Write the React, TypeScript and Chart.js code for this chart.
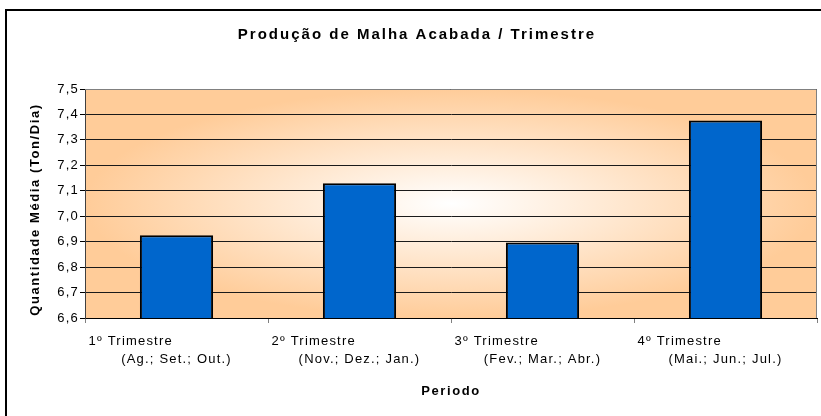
import React, { useEffect, useRef } from 'react';
import { Chart, registerables } from 'chart.js';

Chart.register(...registerables);

const trimestres = ['1º Trimestre', '2º Trimestre', '3º Trimestre', '4º Trimestre'];
const meses = ['(Ag.; Set.; Out.)', '(Nov.; Dez.; Jan.)', '(Fev.; Mar.; Abr.)', '(Mai.; Jun.; Jul.)'];
const producao = [6.925, 7.13, 6.897, 7.376];
const yMin = 6.6;
const yMax = 7.5;
const yStep = 0.1;
const titulo = 'Produção de Malha Acabada / Trimestre';
const tituloX = 'Periodo';
const tituloY = 'Quantidade Média (Ton/Dia)';

const FONT = '"Liberation Sans", Arial, sans-serif';

const decorPlugin = {
  id: 'decor',
  beforeDraw(chart: any) {
    const { ctx, chartArea: a } = chart;
    ctx.save();
    ctx.fillStyle = '#FFFFFF';
    ctx.fillRect(0, 0, chart.width, chart.height);
    // outer frame
    ctx.strokeStyle = '#000';
    ctx.lineWidth = 2;
    ctx.beginPath();
    ctx.moveTo(6, chart.height + 2);
    ctx.lineTo(6, 10);
    ctx.lineTo(chart.width + 2, 10);
    ctx.stroke();
    // plot background gradient
    const cx = (a.left + a.right) / 2;
    const cy = (a.top + a.bottom) / 2;
    const rx = (a.right - a.left) / 2;
    const ry = (a.bottom - a.top) / 2;
    ctx.beginPath();
    ctx.rect(a.left, a.top, a.right - a.left, a.bottom - a.top);
    ctx.clip();
    ctx.translate(cx, cy);
    ctx.scale(rx / ry, 1);
    const g = ctx.createRadialGradient(0, 0, 0, 0, 0, ry);
    g.addColorStop(0, '#FFFFFF');
    g.addColorStop(1, '#FFCC99');
    ctx.fillStyle = g;
    ctx.fillRect(-3000, -3000, 6000, 6000);
    ctx.restore();
    ctx.letterSpacing = '1.2px';
  },
  afterDatasetsDraw(chart: any) {
    const { ctx, chartArea: a } = chart;
    ctx.save();
    ctx.strokeStyle = '#808080';
    ctx.lineWidth = 1;
    const t = Math.round(a.top) + 0.5;
    const r = Math.round(a.right) - 0.5;
    ctx.beginPath();
    ctx.moveTo(Math.round(a.left), t);
    ctx.lineTo(r, t);
    ctx.lineTo(r, Math.round(a.bottom));
    ctx.stroke();
    ctx.restore();
  },
  afterDraw(chart: any) {
    const { ctx } = chart;
    const xs = chart.scales.x;
    ctx.save();
    ctx.fillStyle = '#000';
    ctx.textBaseline = 'middle';
    // x category labels
    ctx.font = `13px ${FONT}`;
    ctx.letterSpacing = '1.2px';
    trimestres.forEach((t, i) => {
      const px = xs.getPixelForValue(i);
      ctx.textAlign = 'left';
      ctx.fillText(t, px - 88, 341);
      ctx.textAlign = 'center';
      ctx.fillText(meses[i], px, 359);
    });
    // main title
    ctx.font = `bold 15px ${FONT}`;
    ctx.letterSpacing = '2px';
    ctx.textAlign = 'center';
    ctx.fillText(titulo, 417, 35);
    // x title
    ctx.font = `bold 13px ${FONT}`;
    ctx.letterSpacing = '1.6px';
    ctx.fillText(tituloX, 451, 391);
    // y title
    ctx.translate(35, 209.5);
    ctx.rotate(-Math.PI / 2);
    ctx.fillText(tituloY, 0, 0);
    ctx.restore();
  },
};

export default function App() {
  const ref = useRef<HTMLCanvasElement>(null);
  useEffect(() => {
    if (!ref.current) return;
    const chart = new Chart(ref.current, {
      type: 'bar',
      data: {
        labels: trimestres,
        datasets: [
          {
            data: producao,
            backgroundColor: '#0066CC',
            borderColor: '#000000',
            borderWidth: 2,
            barPercentage: 0.4,
            categoryPercentage: 1,
          },
        ],
      },
      options: {
        responsive: false,
        animation: false,
        layout: { padding: { top: 89, right: 4, bottom: 0, left: 0 } },
        plugins: { legend: { display: false }, tooltip: { enabled: false } },
        scales: {
          x: {
            afterFit: (s: any) => {
              s.height = 98;
            },
            ticks: { display: false },
            grid: {
              display: true,
              drawOnChartArea: false,
              drawTicks: true,
              tickLength: 5,
              color: '#808080',
              offset: true,
            },
            border: { display: true, color: '#000000', width: 1 },
          },
          y: {
            min: yMin,
            max: yMax,
            afterFit: (s: any) => {
              s.width = 85;
            },
            ticks: {
              stepSize: yStep,
              padding: 1,
              color: '#000',
              font: { family: FONT, size: 13 },
              callback: (v: any) => Number(v).toFixed(1).replace('.', ','),
            },
            grid: {
              color: '#1a1a1a',
              lineWidth: 1,
              tickLength: 5,
              tickColor: '#000',
            },
            border: { display: true, color: '#404040', width: 1 },
          },
        },
      },
      plugins: [decorPlugin],
    });
    return () => chart.destroy();
  }, []);
  return (
    <div style={{ position: 'absolute', left: 0, top: 0, width: 821, height: 416 }}>
      <canvas ref={ref} width={821} height={416} />
    </div>
  );
}
